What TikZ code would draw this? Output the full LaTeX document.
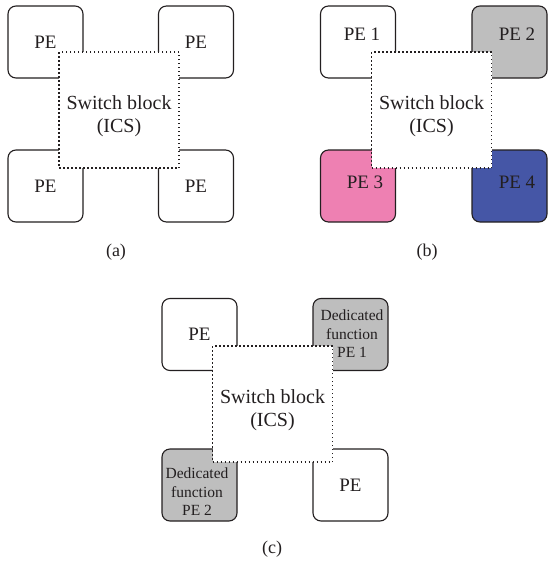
\documentclass[tikz,border=0pt]{standalone}
\usepackage{fontspec}
\setmainfont{Liberation Serif}
\usetikzlibrary{calc}
\definecolor{ink}{HTML}{231F20}
\definecolor{pegray}{HTML}{BEBEBE}
\definecolor{pepink}{HTML}{EE80B2}
\definecolor{peblue}{HTML}{4556A6}
\tikzset{
  pebox/.style={draw=ink, line width=1.1pt, rounded corners=8pt, fill=white,
    minimum width=75pt, minimum height=72pt, inner sep=0pt, text=ink,
    font=\fontsize{19}{21}\selectfont},
  switchbox/.style={draw=ink, line width=1.5pt, fill=white,
    dash pattern=on 1.5pt off 2.5pt, minimum width=120pt, minimum height=116pt,
    inner sep=0pt},
  switchtext/.style={align=center, text=ink, font=\fontsize{20}{23}\selectfont},
  petext/.style={text=ink, font=\fontsize{19}{21}\selectfont},
  dedtext/.style={align=center, text=ink, font=\fontsize{15.5}{18.5}\selectfont},
  caption/.style={text=ink, font=\fontsize{18}{20}\selectfont}
}
\begin{document}
\begin{tikzpicture}[x=1pt, y=-1pt]
\useasboundingbox (0,0) rectangle (547,565);

% ---- (a) four identical processing elements around the switch block
\node[pebox] (a1) at (45.5,42) {PE};
\node[pebox] (a2) at (196,42) {PE};
\node[pebox] (a3) at (45.5,186) {PE};
\node[pebox] (a4) at (196,186) {PE};
\node[switchbox] (asw) at (119,110) {};
\node[switchtext] (aswt) at (119,116) {Switch block\\(ICS)};
\node[caption] (acap) at (116,252) {(a)};

% ---- (b) numbered processing elements with colour coding
\node[pebox] (b1) at (358,42) {};
\node[pebox, fill=pegray] (b2) at (509.5,42) {};
\node[pebox, fill=pepink] (b3) at (358,186) {};
\node[pebox, fill=peblue] (b4) at (509.5,186) {};
\node[switchbox] (bsw) at (431.5,110) {};
\node[switchtext] (bswt) at (431.5,116) {Switch block\\(ICS)};
\node[petext] (b1t) at (362,34) {PE 1};
\node[petext] (b2t) at (517,34) {PE 2};
\node[petext] (b3t) at (365,182) {PE 3};
\node[petext] (b4t) at (517,182) {PE 4};
\node[caption] (bcap) at (427,252) {(b)};

% ---- (c) two dedicated-function processing elements
\node[pebox] (c1) at (199.5,334.5) {PE};
\node[pebox, fill=pegray] (c2) at (350.5,334.5) {};
\node[pebox, fill=pegray] (c3) at (199.5,485) {};
\node[pebox] (c4) at (350.5,485) {PE};
\node[switchbox] (csw) at (272.5,404) {};
\node[switchtext] (cswt) at (272.5,410) {Switch block\\(ICS)};
\node[dedtext] (c2t) at (352,334) {Dedicated\\function\\PE 1};
\node[dedtext] (c3t) at (197,492) {Dedicated\\function\\PE 2};
\node[caption] (ccap) at (272,549) {(c)};
\end{tikzpicture}
\end{document}
